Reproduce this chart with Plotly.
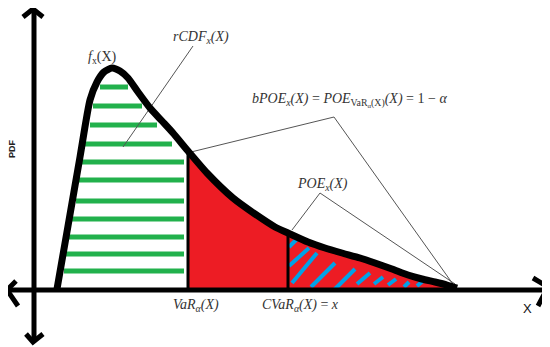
import plotly.graph_objects as go

# density curve f_x(X) (pixel-like units, y grows downwards)
curve_x = [57, 68, 80, 90, 97, 104, 112, 120, 128, 138, 150, 162, 173, 188, 207, 233, 255, 275,
           288, 308, 325, 342, 360, 375, 392, 408, 422, 435, 447, 457]
curve_y = [289, 226, 157, 100, 82, 72, 68, 71, 78, 92, 108, 121, 133, 151, 173, 198, 214, 227,
           233, 242, 248, 253, 258, 263, 269, 275, 279, 282, 285, 288]

baseline = 290
var_x = 188
cvar_x = 288

# green hatching of rCDF area
green_y = [87, 106, 125, 144, 162, 180, 201, 219, 237, 254, 271]
green_x0 = [100, 93, 90, 85, 82, 78, 76, 71, 68, 66, 64]
green_x1 = [128, 142, 157, 172, 184, 184, 184, 184, 184, 184, 184]

# blue hatching of POE area
blue_x0 = [289, 289, 292, 311, 334, 357, 374, 388, 404, 417]
blue_y0 = [247, 266, 283, 287, 290, 284, 284, 285, 287, 286]
blue_x1 = [297, 309, 317, 335, 355, 370, 383, 396, 409, 423]
blue_y1 = [239, 248, 253, 263, 269, 273, 277, 279, 282, 281]

# leader lines for labels
leaders = {
    "rcdf": ([193, 123], [46, 147]),
    "bpoe": ([191, 334, 455], [152, 117, 287]),
    "poe": ([292, 320, 455], [230, 193, 284]),
}

fig = go.Figure()

# red tail area
tail = [(x, y) for x, y in zip(curve_x, curve_y) if x >= var_x]
fig.add_trace(go.Scatter(
    x=[p[0] for p in tail] + [tail[-1][0], var_x],
    y=[p[1] for p in tail] + [baseline, baseline],
    fill="toself", fillcolor="#ed1c24", mode="lines", line=dict(width=0),
    hoverinfo="skip",
))

for y, a, b in zip(green_y, green_x0, green_x1):
    fig.add_trace(go.Scatter(x=[a, b], y=[y, y], mode="lines",
                             line=dict(color="#22b14c", width=5), hoverinfo="skip"))

for a, b, c, d in zip(blue_x0, blue_y0, blue_x1, blue_y1):
    fig.add_trace(go.Scatter(x=[a, c], y=[b, d], mode="lines",
                             line=dict(color="#00a2e8", width=4), hoverinfo="skip"))

# VaR / CVaR verticals
for xv, yt in [(var_x, 151), (cvar_x, 233)]:
    fig.add_trace(go.Scatter(x=[xv, xv], y=[yt, baseline], mode="lines",
                             line=dict(color="black", width=3), hoverinfo="skip"))

# leaders
for xs, ys in leaders.values():
    fig.add_trace(go.Scatter(x=xs, y=ys, mode="lines",
                             line=dict(color="#555555", width=1), hoverinfo="skip"))

# the density curve
fig.add_trace(go.Scatter(x=curve_x, y=curve_y, mode="lines",
                         line=dict(color="black", width=7, shape="spline", smoothing=0.6),
                         hoverinfo="skip"))

# axes with arrow heads
axes = [
    ([6, 548], [290, 290]),
    ([34, 34], [9, 342]),
    ([16, 7, 18], [281, 290, 306]),
    ([533, 548, 538], [278, 287, 306]),
    ([23, 33, 43], [17, 9, 17]),
    ([26, 33, 43], [334, 342, 334]),
]
for xs, ys in axes:
    fig.add_trace(go.Scatter(x=xs, y=ys, mode="lines",
                             line=dict(color="black", width=5), hoverinfo="skip"))

serif = dict(family="Liberation Serif", size=14, color="#333333")
labels = [
    (102, 57, "<i>f</i><sub>x</sub>(X)"),
    (201, 37, "<i>rCDF<sub>x</sub>(X)</i>"),
    (349, 100, "<i>bPOE<sub>x</sub>(X)</i> = <i>POE</i><sub>VaR<sub>α</sub>(X)</sub><i>(X)</i> = 1 − <i>α</i>"),
    (322, 184, "<i>POE<sub>x</sub>(X)</i>"),
    (196, 305, "<i>VaR<sub>α</sub>(X)</i>"),
    (300, 305, "<i>CVaR<sub>α</sub>(X)</i> = <i>x</i>"),
]
for x, y, t in labels:
    fig.add_annotation(x=x, y=y, text=t, showarrow=False, font=serif,
                       xanchor="center", yanchor="middle")

fig.add_annotation(x=527, y=308, text="X", showarrow=False,
                   font=dict(family="Liberation Sans", size=13, color="#111"))
fig.add_annotation(x=12, y=149, text="<b>PDF</b>", showarrow=False, textangle=-90,
                   font=dict(family="Liberation Sans", size=9, color="#222"))

# the page body carries an 8px margin, so the ranges are shifted to keep
# window pixels and data units aligned
fig.update_layout(
    width=550, height=347, margin=dict(l=0, r=0, t=0, b=0),
    paper_bgcolor="white", plot_bgcolor="white", showlegend=False,
    xaxis=dict(range=[8, 558], visible=False, fixedrange=True),
    yaxis=dict(range=[355, 8], visible=False, fixedrange=True),
)

fig.write_html("out.html")
